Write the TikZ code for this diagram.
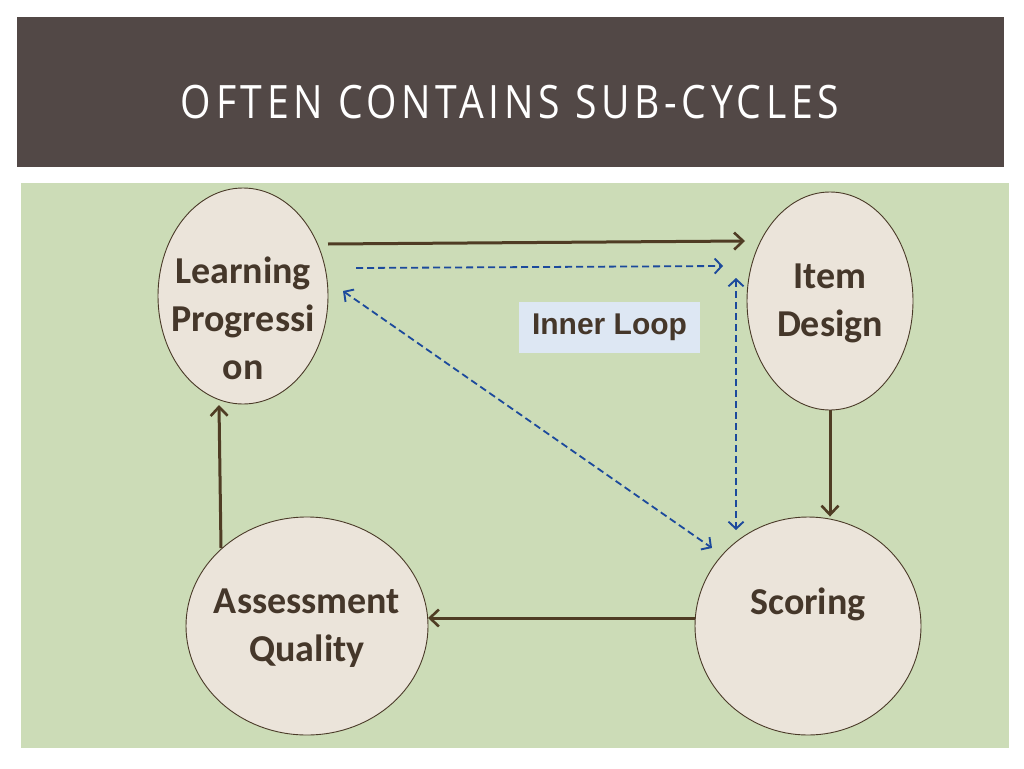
\documentclass[tikz,border=0pt]{standalone}
\usepackage{fontspec}
\setmainfont{Carlito}
\newfontfamily\titlefont[LetterSpace=12]{Open Sans}
\newfontfamily\boxfont{Liberation Sans}
\usetikzlibrary{shapes.geometric,arrows.meta,calc}
\definecolor{hdr}{HTML}{524846}
\definecolor{panel}{HTML}{CCDCB7}
\definecolor{bubble}{HTML}{EBE4DA}
\definecolor{edge}{HTML}{4A3A28}
\definecolor{txt}{HTML}{45372A}
\definecolor{arrbrown}{HTML}{4F3C24}
\definecolor{arrblue}{HTML}{1C4A9C}
\definecolor{boxfill}{HTML}{DDE7F3}
\tikzset{
  bubblenode/.style={ellipse,draw=edge,line width=0.9pt,fill=bubble,inner sep=0pt},
  bubbletext/.style={align=center,text=txt,font=\fontsize{38}{48}\selectfont\bfseries},
  brownarrow/.style={draw=arrbrown,line width=3pt,-{Straight Barb[length=9pt,width=17pt,line width=2.6pt]}},
  bluearrow/.style={draw=arrblue,line width=1.8pt,dash pattern=on 7pt off 4pt,-{Straight Barb[length=7pt,width=15pt,line width=1.9pt]}},
  bluebiarrow/.style={bluearrow,{Straight Barb[length=7pt,width=15pt,line width=1.9pt]}-{Straight Barb[length=7pt,width=15pt,line width=1.9pt]}}
}
\begin{document}
\begin{tikzpicture}[x=1pt,y=-1pt]
\useasboundingbox (0,0) rectangle (1024,768);
\fill[white] (0,0) rectangle (1024,768);
\fill[hdr] (17,17) rectangle (1004,167);
\node[text=white,inner sep=0pt] (title) at (510,102) {\scalebox{0.85}[1]{\titlefont\fontsize{46}{47}\selectfont OFTEN CONTAINS SUB-CYCLES}};
\fill[panel] (21,183) rectangle (1009,748);

\node[bubblenode,minimum width=170pt,minimum height=216pt,
  label={[bubbletext,yshift=-22pt]center:Learning\\Progressi\\on}] (lp) at (243,296) {};
\node[bubblenode,minimum width=166pt,minimum height=218pt,
  label={[bubbletext,yshift=-2pt]center:Item\\Design}] (id) at (830,301) {};
\node[bubblenode,minimum width=226pt,minimum height=218pt,
  label={[bubbletext,yshift=22pt]center:Scoring}] (sc) at (808,626) {};
\node[bubblenode,minimum width=242pt,minimum height=218pt,
  label={[bubbletext,yshift=-2pt]center:Assessment\\Quality}] (aq) at (307,626) {};

\node[fill=boxfill,minimum width=181pt,minimum height=51pt,inner sep=0pt,text=txt,
  font=\boxfont\fontsize{30}{32}\selectfont\bfseries] (inner) at (609.5,327.5) {\raisebox{-3pt}{Inner Loop}};

\draw[brownarrow] ($(lp.center)+(85,-52)$) -- ($(id.center)+(-85,-60)$);
\draw[bluearrow] ($(lp.center)+(113,-28)$) -- ($(id.center)+(-107,-35)$);
\draw[bluebiarrow] ($(id.center)+(-94,-23)$) -- ($(sc.center)+(-72,-96)$);
\draw[bluebiarrow] ($(lp.center)+(100,-5)$) -- ($(sc.center)+(-96,-78)$);
\draw[brownarrow] (id.south) -- (id.south |- sc.north);
\draw[brownarrow] ($(sc.center)+(-113,-8)$) -- ($(aq.center)+(121,-8)$);
\draw[brownarrow] ($(aq.center)+(-86,-78)$) -- ($(lp.center)+(-24,109)$);
\end{tikzpicture}
\end{document}
